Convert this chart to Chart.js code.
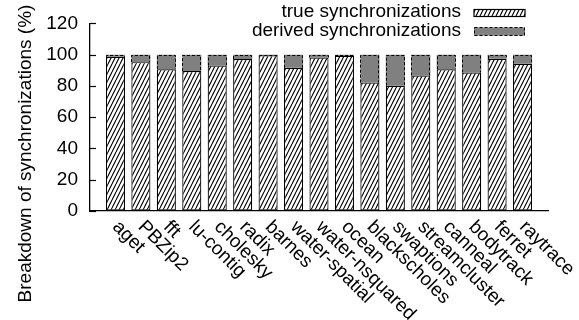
<!DOCTYPE html>
<html>
<head>
<meta charset="utf-8">
<script src="https://cdn.jsdelivr.net/npm/chart.js@4.4.1/dist/chart.umd.min.js"></script>
<style>
html,body{margin:0;padding:0;background:#fff;}
canvas{display:block;}
</style>
</head>
<body>
<canvas id="c" width="579" height="320"></canvas>
<script>
const categories = ['aget','PBZip2','fft','lu-contig','cholesky','radix','barnes','water-spatial','water-nsquared','ocean','blackscholes','swaptions','streamcluster','canneal','bodytrack','ferret','raytrace'];
const trueSync = [98.6, 95.2, 90.7, 89.5, 93.0, 97.2, 99.6, 91.6, 98.2, 99.2, 82.1, 80.1, 86.7, 90.6, 88.6, 97.4, 94.2];
const derivedSync = [1.4, 4.8, 9.3, 10.5, 7.0, 2.8, 0.4, 8.4, 1.8, 0.8, 17.9, 19.9, 13.3, 9.4, 11.4, 2.6, 5.8];
const yTicks = [0, 20, 40, 60, 80, 100, 120];
const seriesNames = ['true synchronizations', 'derived synchronizations'];
const yTitle = 'Breakdown of synchronizations (%)';

const FONT = "'Liberation Sans', Arial, Helvetica, sans-serif";
const GRAY = '#808080';

function makeHatch() {
  const t = document.createElement('canvas');
  t.width = 4; t.height = 8;
  const g = t.getContext('2d');
  g.fillStyle = '#fff';
  g.fillRect(0, 0, 4, 8);
  g.strokeStyle = '#000';
  g.lineWidth = 1.1;
  g.beginPath();
  for (let k = -1; k <= 1; k++) {
    g.moveTo(k * 4, 8);
    g.lineTo(k * 4 + 4, 0);
  }
  g.stroke();
  return document.getElementById('c').getContext('2d').createPattern(t, 'repeat');
}
const hatch = makeHatch();

const labels = [''].concat(categories, ['']);
const pad = arr => [null].concat(arr, [null]);

const decor = {
  id: 'decor',
  afterDatasetsDraw(chart) {
    const ctx = chart.ctx;
    const meta = chart.getDatasetMeta(1);
    ctx.save();
    ctx.strokeStyle = '#000';
    ctx.lineWidth = 1;
    ctx.setLineDash([3, 2]);
    meta.data.forEach((el, i) => {
      if (chart.data.datasets[1].data[i] == null) return;
      const p = el.getProps(['x', 'y', 'base', 'width'], true);
      const l = Math.round(p.x - p.width / 2) + 0.5;
      const r = Math.round(p.x + p.width / 2) - 0.5;
      const top = Math.round(p.y) + 0.5;
      const b = p.base;
      ctx.beginPath();
      ctx.moveTo(l, b); ctx.lineTo(l, top); ctx.lineTo(r, top); ctx.lineTo(r, b);
      ctx.stroke();
    });
    ctx.restore();
  },
  afterDraw(chart) {
    const ctx = chart.ctx;
    const ca = chart.chartArea;
    const ys = chart.scales.y, xs = chart.scales.x;
    ctx.save();
    // inward y ticks
    ctx.strokeStyle = '#000';
    ctx.lineWidth = 1.2;
    yTicks.forEach(v => {
      const y = Math.round(ys.getPixelForValue(v)) + 0.5;
      ctx.beginPath();
      ctx.moveTo(ca.left, y); ctx.lineTo(ca.left + 6, y);
      ctx.stroke();
    });
    // y title
    ctx.fillStyle = '#000';
    ctx.font = '19px ' + FONT;
    ctx.save();
    ctx.translate(31, 153.5);
    ctx.rotate(-Math.PI / 2);
    ctx.textAlign = 'center';
    ctx.textBaseline = 'alphabetic';
    ctx.fillText(yTitle, 0, 0);
    ctx.restore();
    // x labels
    categories.forEach((c, i) => {
      const x = xs.getPixelForValue(i + 1);
      ctx.save();
      ctx.translate(x, 224);
      ctx.rotate(Math.PI / 4);
      ctx.textAlign = 'left';
      ctx.textBaseline = 'middle';
      ctx.fillText(c, 0, 0);
      ctx.restore();
    });
    // legend
    ctx.textAlign = 'right';
    ctx.textBaseline = 'alphabetic';
    ctx.fillText(seriesNames[0], 461, 17);
    ctx.fillText(seriesNames[1], 461, 36);
    ctx.fillStyle = hatch;
    ctx.fillRect(474, 9.5, 51, 7);
    ctx.strokeStyle = '#000';
    ctx.lineWidth = 1.2;
    ctx.strokeRect(474, 9.5, 51, 7);
    ctx.fillStyle = GRAY;
    ctx.fillRect(474, 27.5, 51, 8);
    ctx.lineWidth = 1;
    ctx.setLineDash([3, 2]);
    ctx.strokeRect(474.5, 27.5, 50, 8);
    ctx.restore();
  }
};

new Chart(document.getElementById('c'), {
  type: 'bar',
  data: {
    labels: labels,
    datasets: [
      {
        label: seriesNames[0],
        data: pad(trueSync),
        backgroundColor: hatch,
        borderColor: '#000',
        borderWidth: 1.2,
        borderSkipped: false,
        barPercentage: 0.75,
        categoryPercentage: 1,
        stack: 's'
      },
      {
        label: seriesNames[1],
        data: pad(derivedSync),
        backgroundColor: GRAY,
        borderWidth: 0,
        barPercentage: 0.75,
        categoryPercentage: 1,
        stack: 's'
      }
    ]
  },
  options: {
    responsive: false,
    animation: false,
    devicePixelRatio: 1,
    layout: { padding: { left: 0, right: 31, top: 12, bottom: 0 } },
    plugins: { legend: { display: false }, tooltip: { enabled: false }, title: { display: false } },
    scales: {
      x: {
        type: 'category',
        offset: false,
        stacked: true,
        grid: { display: true, drawOnChartArea: false, drawTicks: false },
        border: { display: true, color: '#000', width: 1.3 },
        ticks: { display: false },
        afterFit: s => { s.height = 109; }
      },
      y: {
        stacked: true,
        min: 0,
        max: 120,
        afterBuildTicks: s => { s.ticks = yTicks.map(v => ({ value: v })); },
        grid: { display: true, drawOnChartArea: false, drawTicks: false },
        border: { display: true, color: '#000', width: 1.3 },
        ticks: { color: '#000', font: { family: FONT, size: 19 }, padding: 12 },
        afterFit: s => { s.width = 90; }
      }
    }
  },
  plugins: [decor]
});
</script>
</body>
</html>
